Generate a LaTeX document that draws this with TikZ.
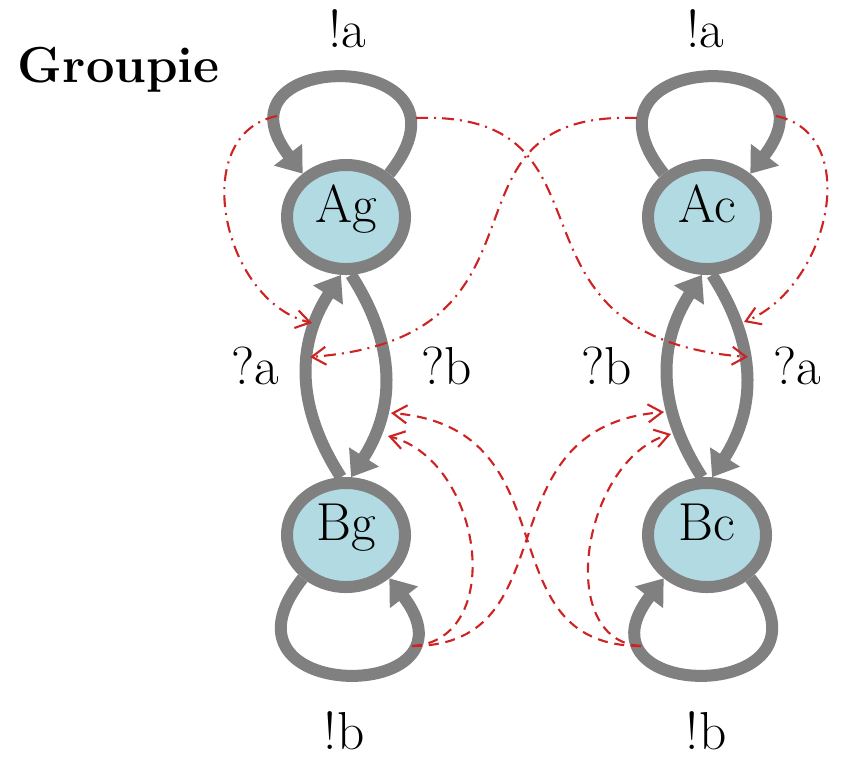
\documentclass[tikz,border=0pt]{standalone}
\usepackage{tikz}
\usetikzlibrary{arrows.meta,shapes.geometric}
\definecolor{stategray}{RGB}{128,128,128}
\definecolor{stateblue}{RGB}{178,218,226}
\definecolor{syncred}{RGB}{205,35,35}

\begin{document}
\begin{tikzpicture}[
      x=0.025cm, y=-0.025cm,
      state/.style={
        ellipse,
        draw=stategray,
        line width=0.3cm,
        fill=stateblue,
        minimum width=2.95cm,
        minimum height=2.6cm,
        inner sep=0pt,
        outer sep=0.15cm,
        text height=1em,
        text depth=0.25em,
        font=\fontsize{38}{40}\selectfont
      },
      trans/.style={-{Triangle[length=0.6cm,width=0.85cm]}, line width=0.3cm, stategray},
      sync/.style={-{Straight Barb[length=0.35cm,width=0.45cm]}, line width=1.5pt, syncred,
        dash pattern=on 0.3cm off 0.15cm on 0.05cm off 0.15cm},
      syncb/.style={-{Straight Barb[length=0.35cm,width=0.45cm]}, line width=1.5pt, syncred,
        dash pattern=on 0.25cm off 0.17cm},
      lbl/.style={anchor=base, font=\fontsize{38}{40}\selectfont}
    ]
    \useasboundingbox (0,0) rectangle (841,759);

    \node[anchor=base west, font=\fontsize{36}{40}\selectfont\bfseries] (title) at (13,82) {Groupie};

    \node[state] (Ag) at (346,217) {Ag};
    \node[state] (Ac) at (707,217) {Ac};
    \node[state] (Bg) at (346,535) {Bg};
    \node[state] (Bc) at (707,535) {Bc};

    \draw[trans] (Ag.45) .. controls +(101,-127) and +(-98,-127) .. (Ag.135);
    \draw[trans] (Ac.135) .. controls +(-101,-127) and +(98,-127) .. (Ac.45);
    \draw[trans] (Bg.-135) .. controls +(-101,127) and +(98,127) .. (Bg.-45);
    \draw[trans] (Bc.-45) .. controls +(101,127) and +(-98,127) .. (Bc.-135);

    \draw[trans] (Bg.95) .. controls +(-45,-70) and +(-45,70) .. (Ag.-95);
    \draw[trans] (Ag.-85) .. controls +(45,70) and +(45,-70) .. (Bg.85);
    \draw[trans] (Bc.95) .. controls +(-45,-70) and +(-45,70) .. (Ac.-95);
    \draw[trans] (Ac.-85) .. controls +(45,70) and +(45,-70) .. (Bc.85);

    \node[lbl] (sendAg) at (347,47) {!a};
    \node[lbl] (sendAc) at (705,47) {!a};
    \node[lbl] (sendBg) at (344,749) {!b};
    \node[lbl] (sendBc) at (706,749) {!b};
    \node[lbl] (recvAg) at (255,384) {?a};
    \node[lbl] (recvBg) at (447,384) {?b};
    \node[lbl] (recvBc) at (607,384) {?b};
    \node[lbl] (recvAc) at (797,384) {?a};

    \coordinate (AgL) at (277,116);
    \coordinate (AgR) at (416,118);
    \coordinate (AcL) at (637,118);
    \coordinate (AcR) at (776,116);
    \coordinate (BgR) at (412,646);
    \coordinate (BcL) at (641,646);
    \coordinate (ga1) at (312,323);
    \coordinate (ga2) at (310,357);
    \coordinate (ca1) at (748,357);
    \coordinate (ca2) at (744,322);
    \coordinate (gb1) at (391,413);
    \coordinate (gb2) at (388,436);
    \coordinate (cb1) at (664,412);
    \coordinate (cb2) at (671,434);

    \draw[sync] (AgL) .. controls +(-90,18) and +(-90,-22) .. (ga1);
    \draw[sync] (AgR) .. controls +(215,-8) and +(-263,-20) .. (ca1);
    \draw[sync] (AcL) .. controls +(-215,-8) and +(263,-20) .. (ga2);
    \draw[sync] (AcR) .. controls +(88,18) and +(85,-35) .. (ca2);

    \draw[syncb] (BgR) .. controls +(95,-5) and +(95,25) .. (gb2);
    \draw[syncb] (BgR) .. controls +(160,0) and +(-185,15) .. (cb1);
    \draw[syncb] (BcL) .. controls +(-160,0) and +(185,15) .. (gb1);
    \draw[syncb] (BcL) .. controls +(-88,-5) and +(-88,25) .. (cb2);
  \end{tikzpicture}
\end{document}
